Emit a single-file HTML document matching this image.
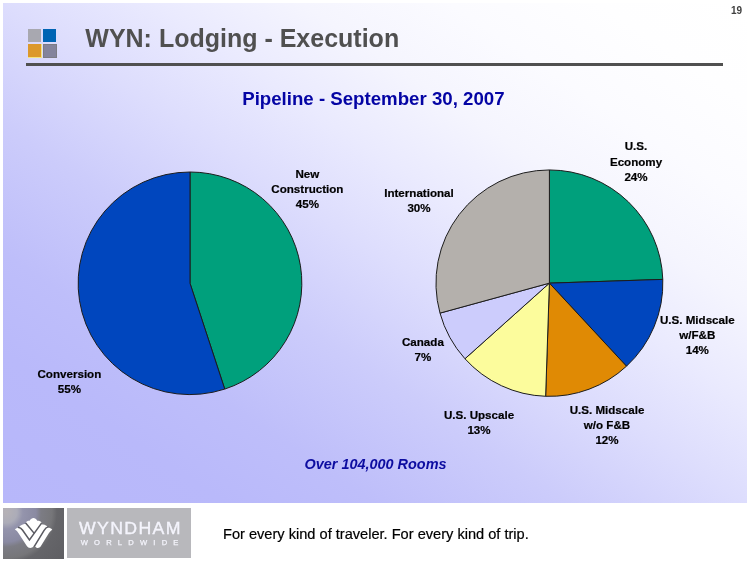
<!DOCTYPE html>
<html><head><meta charset="utf-8">
<style>
html,body{margin:0;padding:0;background:#fff;}
body{width:750px;height:562px;position:relative;overflow:hidden;font-family:"Liberation Sans",Arial,sans-serif;}
#bg{position:absolute;left:3px;top:3px;width:744px;height:500px;background:linear-gradient(to top right,#b7b7fa 0%,#b9b9fa 15%,#bebefa 25%,#ccccfb 38%,#ddddfd 50%,#eaeafe 60%,#f5f5fe 70%,#fbfbff 80%,#fefeff 90%,#ffffff 100%);}
.t{position:absolute;white-space:nowrap;line-height:1;}
#title{left:85.3px;top:25.8px;font-size:25px;font-weight:bold;color:#505050;}
#num{left:731px;top:6px;font-size:10px;font-weight:bold;color:#404040;}
#rule{position:absolute;left:26px;top:63.2px;width:697.3px;height:2.6px;background:#505050;}
.sq{position:absolute;width:13px;height:13px;}
#sub{left:242.2px;top:90.3px;font-size:18.67px;font-weight:bold;color:#0404a4;}
.lab{position:absolute;font-size:11.6px;font-weight:bold;color:#000;-webkit-text-stroke:0.2px #000;text-align:center;line-height:15.2px;white-space:nowrap;transform:translateX(-50%);}
#rooms{left:304.5px;top:456.5px;font-size:14.45px;font-weight:bold;font-style:italic;color:#0c0ca0;}
#tag{left:223px;top:527.1px;font-size:14.6px;color:#000;-webkit-text-stroke:0.2px #000;}
#logo1{position:absolute;left:3px;top:508px;width:61px;height:50.6px;background:radial-gradient(circle at 3px 4px,#b6b2b6 0,#acacb8 11px,#9494ac 17px,#8a8aa2 30px,#7c7c84 35px,#767679 46px,#656569 51px,#5e5e62 100%);}
#logo2{position:absolute;left:67px;top:508.3px;width:124.3px;height:49.8px;background:#b8b8bc;}
#w1{left:12px;top:12.6px;font-size:15.8px;letter-spacing:1.2px;transform-origin:0 0;transform:scaleX(1.12);color:#f4f4fc;-webkit-text-stroke:0.35px #f4f4fc;}
#w2{left:13.7px;top:31.1px;font-size:7.6px;letter-spacing:6.2px;color:#f4f4fc;-webkit-text-stroke:0.25px #f4f4fc;}
svg{position:absolute;left:0;top:0;z-index:2;}
</style></head><body>
<div id="bg"></div>
<div class="sq" style="left:28px;top:29px;background:#a8a8b0"></div>
<div class="sq" style="left:43px;top:29px;background:#0064b4"></div>
<div class="sq" style="left:28px;top:44px;background:#dc982c;border-bottom:0.8px solid #f4e480;border-right:0.5px solid #f4e480"></div>
<div class="sq" style="left:43px;top:44px;width:11.6px;height:11.6px;background:#84849c;border:1px solid #7c7c84"></div>
<div id="title" class="t">WYN: Lodging - Execution</div>
<div id="num" class="t">19</div>
<div id="rule"></div>
<div id="sub" class="t">Pipeline - September 30, 2007</div>
<svg width="750" height="562" viewBox="0 0 750 562">
<g stroke="#1c1c1c" stroke-width="1" stroke-linejoin="round">
<path d="M190.0 283.3 L190.00 172.00 A111.85 111.3 0 0 1 224.75 389.09 Z" fill="#00a07c"/>
<path d="M190.0 283.3 L224.75 389.09 A111.85 111.3 0 1 1 190.00 172.00 Z" fill="#0046be"/>
<path d="M549.4 283.15 L549.40 169.95 A113.45 113.2 0 0 1 662.79 279.40 Z" fill="#00a07c"/>
<path d="M549.4 283.15 L662.79 279.40 A113.45 113.2 0 0 1 626.48 366.21 Z" fill="#0046be"/>
<path d="M549.4 283.15 L626.48 366.21 A113.45 113.2 0 0 1 545.64 396.29 Z" fill="#e08a04"/>
<path d="M549.4 283.15 L545.64 396.29 A113.45 113.2 0 0 1 464.96 358.75 Z" fill="#fcfc9c"/>
<path d="M549.4 283.15 L464.96 358.75 A113.45 113.2 0 0 1 440.00 313.12 Z" fill="#ccccfc"/>
<path d="M549.4 283.15 L440.00 313.12 A113.45 113.2 0 0 1 549.40 169.95 Z" fill="#b4b0ac"/>
</g>
<g transform="translate(14,516) scale(0.060514)">
<path fill="#fff" d="M15,225 C40,200 65,192 88,192 L92,168 C130,140 170,130 205,132 L197,112 C205,85 235,78 258,80 C275,45 300,33 322,33 C345,33 368,45 385,80 C410,78 445,85 455,115 L450,135 C490,135 525,150 548,168 L560,192 C590,195 615,210 632,226 C600,245 585,270 570,295 L445,495 C430,520 410,527 395,527 C375,527 358,515 348,498 L337,482 L325,495 C310,520 290,527 268,527 C245,527 225,515 212,495 L75,285 C60,260 40,240 15,225 Z"/>
<g fill="none" stroke="#5a5a61" stroke-width="25" stroke-linecap="butt" stroke-linejoin="miter">
<path d="M66,186 C100,192 125,210 140,232 L255,397 L455,118"/>
<path d="M193,116 L334,287"/>
<path d="M570,176 C535,188 510,215 495,240 L336,503"/>
</g>
</g>
</svg>
<div class="lab" style="left:307.4px;top:165.9px">New<br>Construction<br>45%</div>
<div class="lab" style="left:419px;top:184.8px">International<br>30%</div>
<div class="lab" style="left:69.4px;top:366.0px">Conversion<br>55%</div>
<div class="lab" style="left:636px;top:138.4px">U.S.<br>Economy<br>24%</div>
<div class="lab" style="left:697.3px;top:311.5px">U.S. Midscale<br>w/F&amp;B<br>14%</div>
<div class="lab" style="left:607px;top:402.0px">U.S. Midscale<br>w/o F&amp;B<br>12%</div>
<div class="lab" style="left:422.9px;top:333.7px">Canada<br>7%</div>
<div class="lab" style="left:479px;top:407.0px">U.S. Upscale<br>13%</div>
<div id="rooms" class="t">Over 104,000 Rooms</div>
<div id="logo1"></div>
<div id="logo2"><div id="w1" class="t">WYNDHAM</div><div id="w2" class="t">WORLDWIDE</div></div>
<div id="tag" class="t">For every kind of traveler. For every kind of trip.</div>
</body></html>
